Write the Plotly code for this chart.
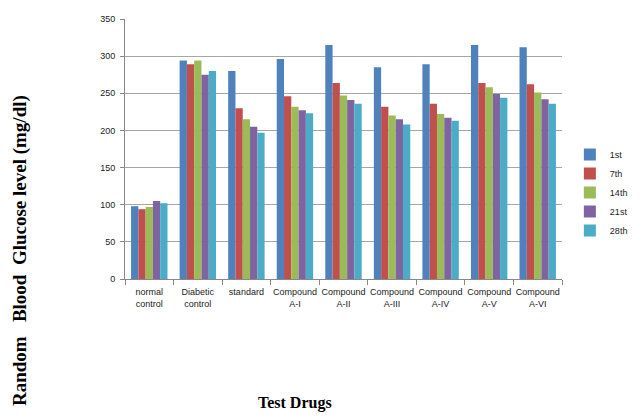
import plotly.graph_objects as go

categories = ["normal<br>control", "Diabetic<br>control", "standard", "Compound<br>A-I",
              "Compound<br>A-II", "Compound<br>A-III", "Compound<br>A-IV",
              "Compound<br>A-V", "Compound<br>A-VI"]
series_names = ["1st", "7th", "14th", "21st", "28th"]
day_1st = [98, 294, 280, 296, 315, 285, 289, 315, 312]
day_7th = [94, 289, 230, 246, 264, 232, 236, 264, 262]
day_14th = [97, 294, 215, 232, 247, 220, 222, 258, 251]
day_21st = [105, 275, 205, 227, 241, 215, 217, 249, 242]
day_28th = [102, 280, 197, 223, 236, 208, 213, 244, 236]
y_ticks = [0, 50, 100, 150, 200, 250, 300, 350]

colors = ["#4F81BD", "#C0504D", "#9BBB59", "#8064A2", "#4BACC6"]
values = [day_1st, day_7th, day_14th, day_21st, day_28th]

fig = go.Figure()
for name, vals, c in zip(series_names, values, colors):
    fig.add_trace(go.Bar(x=categories, y=vals, name=name, marker_color=c,
                         marker_line_width=0))

tickfont = dict(family="Liberation Sans, Arial, sans-serif", size=9, color="#222")
fig.update_layout(
    width=628, height=404,
    margin=dict(l=117, r=74, t=11, b=133, autoexpand=False),
    paper_bgcolor="white", plot_bgcolor="white",
    barmode="group", bargap=0.25, bargroupgap=0,
    showlegend=True,
    legend=dict(x=1.018, y=0.535, xanchor="left", yanchor="top",
                font=dict(family="Liberation Sans, Arial, sans-serif", size=9, color="#222"),
                tracegroupgap=0, bgcolor="rgba(0,0,0,0)"),
    xaxis=dict(tickfont=tickfont, tickangle=0, showline=True, linecolor="#888", linewidth=1,
               ticks="outside", tickson="boundaries", ticklen=5, tickcolor="#888",
               ticklabelstandoff=4, showgrid=False),
    yaxis=dict(tickfont=tickfont, range=[0, 350], tickvals=y_ticks,
               showline=True, linecolor="#888", linewidth=1,
               ticks="outside", ticklen=4, tickcolor="#888", ticklabelstandoff=3,
               showgrid=True, gridcolor="#a6a6a6", gridwidth=1, zeroline=False),
    annotations=[
        dict(text="<b>Random&nbsp;&nbsp; Blood&nbsp; Glucose level (mg/dl)</b>",
             xref="paper", yref="paper",
             x=-0.240, y=0.108, xanchor="center", yanchor="middle", textangle=-90,
             showarrow=False,
             font=dict(family="Liberation Serif, Times New Roman, serif", size=19, color="black")),
        dict(text="<b>Test Drugs</b>", xref="paper", yref="paper",
             x=0.389, y=-0.475, xanchor="center", yanchor="middle", showarrow=False,
             font=dict(family="Liberation Serif, Times New Roman, serif", size=16, color="black")),
    ],
)
fig.write_html("out.html")
